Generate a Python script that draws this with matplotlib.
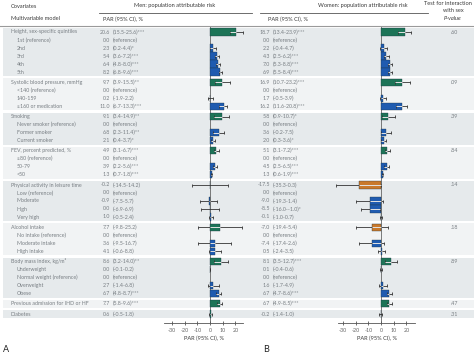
import matplotlib.pyplot as plt
from matplotlib.patches import Rectangle

plt.rcParams['font.family'] = ['Lato', 'DejaVu Sans']

# covariates, in table order
labels = ["Height, sex-specific quintiles", "1st (reference)", "2nd", "3rd", "4th", "5th",
          "Systolic blood pressure, mmHg", "<140 (reference)", "140-159", "≥160 or medication",
          "Smoking", "Never smoker (reference)", "Former smoker", "Current smoker",
          "FEV, percent predicted, %", "≥80 (reference)", "50-79", "<50",
          "Physical activity in leisure time", "Low (reference)", "Moderate", "High", "Very high",
          "Alcohol intake", "No intake (reference)", "Moderate intake", "High intake",
          "Body mass index, kg/m²", "Underweight", "Normal weight (reference)", "Overweight", "Obese",
          "Previous admission for IHD or HF", "Diabetes"]
group_sizes = [6, 4, 4, 4, 5, 4, 5, 1, 1]

# men
men_par = [20.6, 0.0, 2.3, 5.4, 6.4, 8.2, 9.7, 0.0, 0.2, 11.0, 9.1, 0.0, 6.8, 2.1,
           4.9, 0.0, 3.9, 1.3, -0.2, 0.0, -0.9, 0.0, 1.0, 7.7, 0.0, 3.6, 4.1,
           8.6, 0.0, 0.0, 2.7, 6.7, 7.7, 0.6]
men_lo = [15.5, None, 0.2, 3.6, 4.8, 6.8, 3.9, None, -1.9, 6.7, 3.4, None, 2.3, 0.4,
          3.1, None, 2.2, 0.7, -14.5, None, -7.5, -6.9, -0.5, -9.8, None, -9.5, -0.6,
          3.2, -0.1, None, -1.4, 4.8, 5.8, -0.5]
men_hi = [25.6, None, 4.4, 7.2, 8.0, 9.6, 15.5, None, 2.2, 13.3, 14.9, None, 11.4, 3.7,
          6.7, None, 5.6, 1.8, 14.2, None, 5.7, 6.9, 2.4, 25.2, None, 16.7, 8.8,
          14.0, 0.2, None, 6.8, 8.7, 9.6, 1.8]
men_sig = ["***", "", "*", "***", "***", "***", "**", "", "", "***", "**", "", "**", "*",
           "***", "", "***", "***", "", "", "", "", "", "", "", "", "",
           "**", "", "", "", "***", "***", ""]

# women
women_par = [18.7, 0.0, 2.2, 4.3, 7.0, 6.9, 16.9, 0.0, 1.7, 16.2, 5.8, 0.0, 3.6, 2.0,
             5.1, 0.0, 4.5, 1.3, -17.5, 0.0, -9.0, -8.5, -0.1, -7.0, 0.0, -7.4, 0.5,
             8.1, 0.1, 0.0, 1.6, 6.7, 6.7, -0.2]
women_lo = [13.4, None, -0.4, 2.5, 5.3, 5.5, 10.7, None, -0.5, 11.6, 0.9, None, -0.2, 0.3,
            3.1, None, 2.5, 0.6, -35.3, None, -19.3, -16.0, -1.0, -19.4, None, -17.4, -2.4,
            3.5, -0.4, None, -1.7, 4.7, 4.9, -1.4]
women_hi = [23.9, None, 4.7, 6.2, 8.8, 8.4, 23.2, None, 3.9, 20.8, 10.7, None, 7.5, 3.6,
            7.2, None, 6.5, 1.9, 0.3, None, 1.4, -1.0, 0.7, 5.4, None, 2.6, 3.5,
            12.7, 0.6, None, 4.9, 8.6, 8.5, 1.0]
women_sig = ["***", "", "", "***", "***", "***", "***", "", "", "***", "*", "", "", "*",
             "***", "", "***", "***", "", "", "", "*", "", "", "", "", "",
             "***", "", "", "", "***", "***", ""]

p_interaction = [".60", ".09", ".39", ".84", ".14", ".18", ".89", ".47", ".31"]

# row layout (pixel coordinates of the figure)
ypos, is_group = [], []
i = 0
for g, n in enumerate(group_sizes):
    for k in range(n):
        ypos.append(32 + i * 8 + g * 2.25)
        is_group.append(k == 0)
        i += 1

W, H = 474, 355
fig = plt.figure(figsize=(W / 100, H / 100), dpi=100)
tab = fig.add_axes([0, 0, 1, 1])
tab.set_xlim(0, W)
tab.set_ylim(H, 0)
tab.axis('off')

txt = '#787e83'
dark = '#3a3a3a'
fs = 3.75
hfs = 4.1

# shaded group bands
start = 0
for g, n in enumerate(group_sizes):
    top = ypos[start] - 4
    bot = ypos[start + n - 1] + 4
    tab.add_patch(Rectangle((3, top), W - 3, bot - top,
                            color='#e6eaec' if g % 2 == 0 else '#f1f3f4', lw=0, zorder=0))
    tab.text(454, ypos[start], p_interaction[g], ha='center', va='center', fontsize=fs, color=txt)
    start += n

# headers
tab.text(11, 6, "Covariates", fontsize=hfs, color=dark, va='center')
tab.text(11, 19, "Multivariable model", fontsize=hfs, color=dark, va='center')
tab.text(175, 6, "Men: population attributable risk", fontsize=hfs, color=dark, va='center', ha='center')
tab.text(363, 6, "Women: population attributable risk", fontsize=hfs, color=dark, va='center', ha='center')
tab.text(103, 19, "PAR (95% CI), %", fontsize=hfs, color=dark, va='center')
tab.text(268, 19, "PAR (95% CI), %", fontsize=hfs, color=dark, va='center')
tab.text(472, 3.5, "Test for interaction", fontsize=hfs, color=dark, va='center', ha='right')
tab.text(453, 11, "with sex", fontsize=hfs, color=dark, va='center', ha='center')
tab.text(453, 18.5, "P-value", fontsize=hfs, color=dark, va='center', ha='center', style='italic')
tab.plot([99, 252], [13, 13], color='#555', lw=0.6)
tab.plot([260, 428], [13, 13], color='#555', lw=0.6)
tab.plot([0, W], [26, 26], color='#9a9a9a', lw=0.8)
tab.text(3, 349, "A", fontsize=6.5, color='#222', va='center')
tab.text(263, 349, "B", fontsize=6.5, color='#222', va='center')


def num(x):
    return f"{x:.1f}"


def table_col(par, lo, hi, sig, xval, xci):
    for y, v, l, h, s in zip(ypos, par, lo, hi, sig):
        tab.text(xval, y, num(v), ha='right', va='center', fontsize=fs, color=txt)
        ci = "(reference)" if l is None else f"({num(l)}-{num(h)}){s}"
        tab.text(xci, y, ci, ha='left', va='center', fontsize=fs, color=txt)


for y, lab, g in zip(ypos, labels, is_group):
    tab.text(11 if g else 17, y, lab, va='center', fontsize=fs, color=txt)
table_col(men_par, men_lo, men_hi, men_sig, 110, 113)
table_col(women_par, women_lo, women_hi, women_sig, 270, 273)


def forest(left, xlim, par, lo, hi):
    px = 1.27
    ax = fig.add_axes([left / W, (H - 323) / H, (xlim[1] - xlim[0]) * px / W, (323 - 27) / H])
    ax.set_facecolor('none')
    ax.set_xlim(*xlim)
    ax.set_ylim(323, 27)
    ax.axvline(0, color='#666', lw=0.6, zorder=1)
    for y, v, l, h, g in zip(ypos, par, lo, hi, is_group):
        if l is None:
            continue
        col = ('#1d7457' if v >= 0 else '#c9792b') if g else '#1f5bb0'
        ax.barh(y, v, height=7.2, color=col, edgecolor='#1c3340', lw=0.25, zorder=2)
        ax.hlines(y, l, h, color='#333', lw=0.6, zorder=3, clip_on=False)
        ax.vlines([l, h], y - 1.5, y + 1.5, color='#333', lw=0.6, zorder=3, clip_on=False)
        a, b = max(l, min(0, v)), min(h, max(0, v))
        if b > a:
            ax.hlines(y, a, b, color='white', lw=0.6, zorder=4)
    for sp in ['top', 'right', 'left']:
        ax.spines[sp].set_visible(False)
    ax.spines['bottom'].set_color('#555')
    ax.spines['bottom'].set_linewidth(0.6)
    ax.set_yticks([])
    ax.set_xticks([-30, -20, -10, 0, 10, 20])
    ax.set_xticklabels(["-30", "-20", "-10", "0", "10", "20"])
    ax.tick_params(axis='x', direction='inout', length=3, width=0.6, color='#555',
                   labelsize=3.9, labelcolor='#666', pad=2)
    ax.set_xlabel("PAR (95% CI), %", fontsize=hfs, color=dark, labelpad=2)
    return ax


forest(164.3, (-36, 26), men_par, men_lo, men_hi)
forest(337.8, (-34, 27), women_par, women_lo, women_hi)

fig.savefig("out.png", dpi=100)
